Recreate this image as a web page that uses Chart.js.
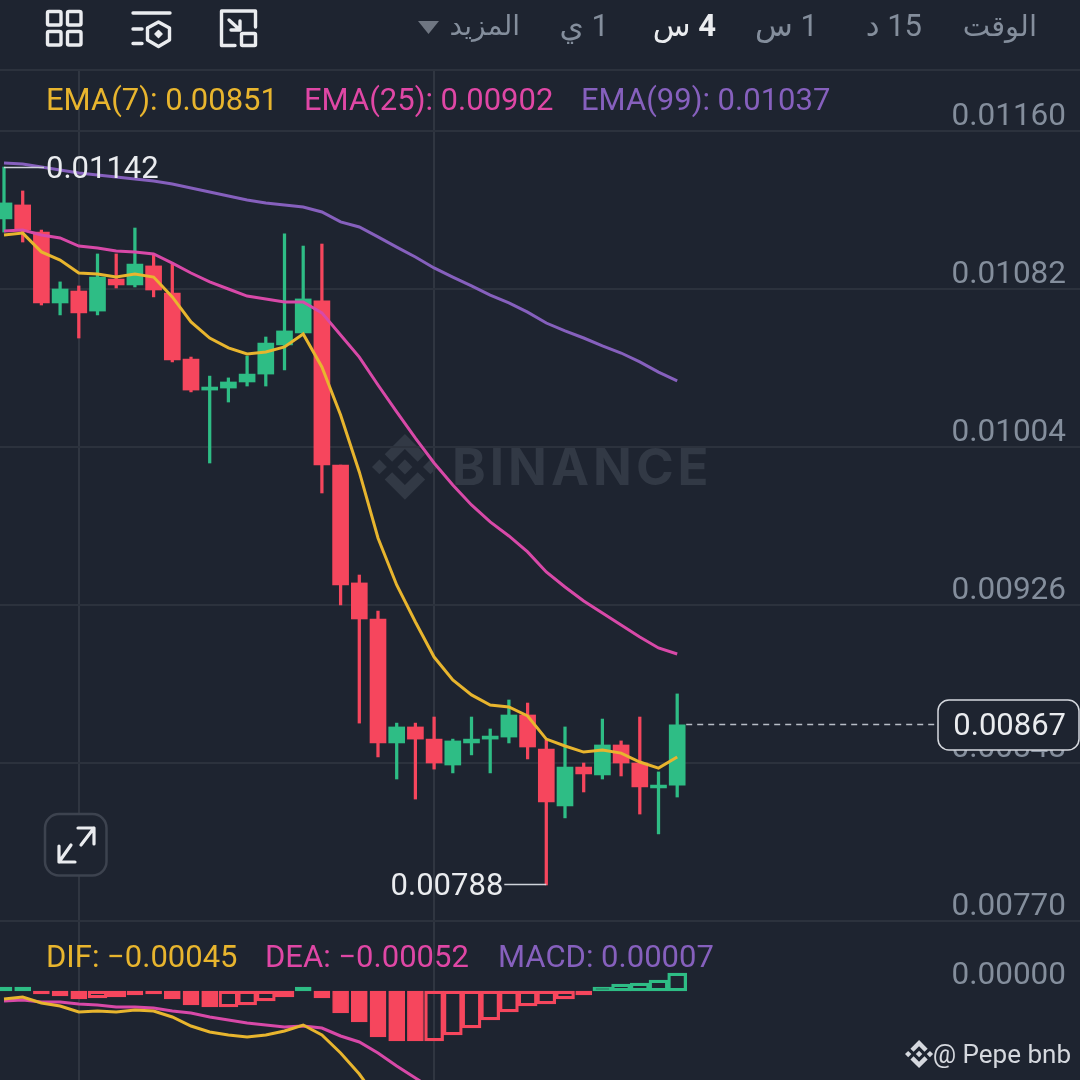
<!DOCTYPE html>
<html lang="ar">
<head>
<meta charset="utf-8">
<title>Binance chart</title>
<script src="https://cdn.jsdelivr.net/npm/chart.js@4"></script>
<style>
html,body{margin:0;padding:0;background:#1e2430;width:1080px;height:1080px;overflow:hidden;font-family:Roboto,"DejaVu Sans",sans-serif}
#wrap{position:relative;width:1080px;height:1080px;background:#1e2430;overflow:hidden}
#chart{position:absolute;left:0;top:70px;display:block}
.t{position:absolute;white-space:nowrap;line-height:1}
.tab{top:9px;font-size:31px;color:#848e9c;direction:rtl;font-family:Roboto,"DejaVu Sans",sans-serif;line-height:34px}
.lg{font-size:31px;font-family:Roboto,sans-serif;line-height:31px}
svg.o{position:absolute;left:0;top:0}
</style>
</head>
<body>
<div id="wrap">
<svg class="o" width="1080" height="1080" id="bg">
  <g transform="translate(372,434) scale(0.52)" fill="#323945">
    <polygon points="38.73,53.2 63.3,28.63 87.89,53.22 102.19,38.92 63.3,0 24.43,38.87"/>
    <polygon points="0,63.3 14.3,49 28.6,63.3 14.3,77.6"/>
    <polygon points="38.73,73.41 63.3,97.98 87.89,73.39 102.2,87.69 63.3,126.61 24.42,87.71"/>
    <polygon points="98.01,63.31 112.31,49.01 126.61,63.31 112.31,77.61"/>
    <polygon points="77.83,63.3 63.3,48.76 48.76,63.29 63.3,77.84"/>
  </g>
</svg>
<div class="t" style="left:452px;top:441px;font:700 51px/52px Inter,sans-serif;color:#323945;letter-spacing:4px">BINANCE</div>
<canvas id="chart" width="1080" height="1010"></canvas>

<svg class="o" width="1080" height="71"><line x1="0" x2="1080" y1="70" y2="70" stroke="#2c323d" stroke-width="2"/></svg>
<svg class="o" width="1080" height="70" fill="none" stroke="#eaecef" stroke-width="3.4" stroke-linecap="round" stroke-linejoin="round">
  <rect x="47.500" y="11.500" width="13.500" height="13.500" rx="1.500"/><rect x="67.500" y="11.500" width="13.500" height="13.500" rx="1.500"/>
  <rect x="47.500" y="31.500" width="13.500" height="13.500" rx="1.500"/><rect x="67.500" y="31.500" width="13.500" height="13.500" rx="1.500"/>
  <path d="M133 13H170M133 29H142M133 43.500H142"/>
  <path d="M158.500 22L169.500 28V40L158.500 46.500L147.500 40V28Z"/>
  <path d="M158.500 30.500L162 34L158.500 37.500L155 34Z" fill="#eaecef" stroke-width="1.500"/>
  <path d="M235 45.500H221.500V11H255.500V27"/>
  <rect x="241.500" y="33.500" width="14" height="12" rx="1"/>
  <path d="M229 20L240 30M240 21V30H231"/>
</svg>
<div class="t tab" style="right:43px;font-size:29px">الوقت</div>
<div class="t tab" style="right:158px">15 د</div>
<div class="t tab" style="right:262px">1 س</div>
<div class="t tab" style="right:364px;color:#eaecef"><b>4</b> س</div>
<div class="t tab" style="right:471px">1 ي</div>
<div class="t tab" style="right:560px;font-size:28px">المزيد</div>
<svg class="o" width="1080" height="70"><polygon points="418,21 439,21 428.500,34" fill="#6f7682"/></svg>

<div class="t lg" style="left:46px;top:84px;color:#e8b52e">EMA(7): 0.00851</div>
<div class="t lg" style="left:304px;top:84px;color:#df47a5">EMA(25): 0.00902</div>
<div class="t lg" style="left:581px;top:84px;color:#8660bd">EMA(99): 0.01037</div>
<div class="t lg" style="left:46px;top:941px;color:#e8b52e">DIF: −0.00045</div>
<div class="t lg" style="left:265px;top:941px;color:#df47a5">DEA: −0.00052</div>
<div class="t lg" style="left:498px;top:941px;color:#8660bd">MACD: 0.00007</div>

<svg class="o" width="1080" height="1080" style="pointer-events:none">
  <rect x="45" y="814" width="61.500" height="61.500" rx="14" fill="#1e2430" stroke="#3d434f" stroke-width="2.5"/>
  <path d="M81 845L94 828M78 828H94V844M71 845L59 862M59 846V862H75" fill="none" stroke="#eaecef" stroke-width="3.200" stroke-linecap="round" stroke-linejoin="round"/>
  <g transform="translate(905,1040) scale(0.222)" fill="#d5d8de">
    <polygon points="38.73,53.2 63.3,28.63 87.89,53.22 102.19,38.92 63.3,0 24.43,38.87"/>
    <polygon points="0,63.3 14.3,49 28.6,63.3 14.3,77.6"/>
    <polygon points="38.73,73.41 63.3,97.98 87.89,73.39 102.2,87.69 63.3,126.61 24.42,87.71"/>
    <polygon points="98.01,63.31 112.31,49.01 126.61,63.31 112.31,77.61"/>
    <polygon points="77.83,63.3 63.3,48.76 48.76,63.29 63.3,77.84"/>
  </g>
</svg>
<div class="t" style="right:9px;top:1041px;font:400 26px/26px Roboto,sans-serif;color:#d5d8de">@ Pepe bnb</div>
</div>

<script>
const opens  = [0.011166,0.011235,0.011101,0.010751,0.010810,0.010711,0.010869,0.010840,0.010934,0.010800,0.010474,0.010321,0.010331,0.010361,0.010400,0.010544,0.010603,0.010761,0.009951,0.009369,0.009191,0.008579,0.008658,0.008598,0.008470,0.008579,0.008598,0.008608,0.008717,0.008549,0.008268,0.008460,0.008421,0.008569,0.008480,0.008357,0.008371];
const highs  = [0.011422,0.011304,0.011111,0.010855,0.010835,0.010993,0.010993,0.011121,0.010993,0.010948,0.010484,0.010390,0.010381,0.010489,0.010583,0.011092,0.011032,0.011042,0.009951,0.009408,0.009230,0.008677,0.008677,0.008707,0.008598,0.008707,0.008648,0.008791,0.008776,0.008594,0.008658,0.008480,0.008697,0.008589,0.008707,0.008436,0.008821];
const lows   = [0.011101,0.011052,0.010741,0.010692,0.010578,0.010692,0.010825,0.010830,0.010781,0.010460,0.010312,0.009961,0.010262,0.010341,0.010341,0.010420,0.010603,0.009813,0.009260,0.008677,0.008510,0.008401,0.008302,0.008450,0.008431,0.008520,0.008431,0.008579,0.008500,0.007878,0.008209,0.008337,0.008401,0.008416,0.008228,0.008130,0.008312];
const closes = [0.011245,0.011111,0.010751,0.010820,0.010702,0.010879,0.010840,0.010943,0.010815,0.010470,0.010321,0.010336,0.010361,0.010400,0.010553,0.010613,0.010771,0.009951,0.009359,0.009191,0.008579,0.008658,0.008598,0.008480,0.008589,0.008598,0.008613,0.008717,0.008559,0.008288,0.008460,0.008426,0.008569,0.008480,0.008362,0.008371,0.008668];
const ema7   = [0.011087,0.011096,0.011003,0.010963,0.010899,0.010894,0.010879,0.010894,0.010879,0.010781,0.010657,0.010578,0.010529,0.010499,0.010509,0.010534,0.010598,0.010435,0.010198,0.009917,0.009591,0.009359,0.009176,0.009003,0.008890,0.008816,0.008766,0.008757,0.008712,0.008598,0.008564,0.008534,0.008544,0.008529,0.008485,0.008455,0.008510];
const ema25  = [0.011106,0.011111,0.011087,0.011072,0.011032,0.011022,0.011008,0.011003,0.010993,0.010948,0.010899,0.010855,0.010820,0.010785,0.010771,0.010756,0.010756,0.010702,0.010593,0.010484,0.010346,0.010213,0.010084,0.009961,0.009852,0.009754,0.009670,0.009601,0.009522,0.009423,0.009349,0.009280,0.009220,0.009161,0.009102,0.009048,0.009018];
const ema99  = [0.011442,0.011437,0.011422,0.011407,0.011393,0.011383,0.011373,0.011363,0.011353,0.011338,0.011319,0.011299,0.011279,0.011259,0.011245,0.011235,0.011225,0.011200,0.011151,0.011126,0.011077,0.011027,0.010978,0.010924,0.010879,0.010835,0.010790,0.010751,0.010706,0.010652,0.010613,0.010578,0.010539,0.010504,0.010460,0.010410,0.010366];
const macdHist = [0.000016,0.000016,-0.000012,-0.00002,-0.000032,-0.000028,-0.000024,-0.000016,-0.000012,-0.000032,-0.000056,-0.000064,-0.000064,-0.000056,-0.00004,-0.000024,0.000016,-0.000028,-0.000088,-0.000124,-0.000184,-0.0002,-0.0002,-0.0002,-0.000176,-0.000148,-0.000116,-0.000084,-0.00006,-0.000052,-0.000032,-0.000016,0.000016,0.000028,0.000032,0.000044,0.000072];
const macdHollow = [0,0,0,0,0,1,1,0,0,0,0,0,1,1,1,1,0,0,0,0,0,0,0,1,1,1,1,1,1,1,1,0,1,1,1,1,1];
const dif = [-0.000032,-0.000024,-0.000048,-0.00006,-0.000084,-0.00008,-0.000084,-0.000076,-0.00008,-0.000104,-0.00014,-0.000164,-0.000176,-0.000184,-0.000176,-0.00016,-0.000136,-0.000176,-0.000248,-0.000332,-0.000436];
const dea = [-0.00004,-0.000036,-0.000044,-0.000044,-0.000052,-0.000056,-0.000064,-0.000064,-0.000068,-0.00008,-0.000088,-0.000104,-0.000116,-0.000128,-0.000136,-0.000144,-0.00014,-0.000148,-0.00018,-0.000204,-0.000248,-0.0003,-0.000348,-0.000396];
const priceTicks = [0.0116,0.01082,0.01004,0.00926,0.00848,0.0077];
const macdTicks = [0];
const timeGrid = [4,23];
const lastPrice = 0.00867, highPrice = 0.01142, lowPrice = 0.00788;
const highIndex = 0, lowIndex = 29, lastIndex = 36;

const RED='#f6465d', GREEN='#2ebd85', GRID='#2c323d', TICK='#848e9c', BG='#1e2430';
const up = i => closes[i] >= opens[i];
const idx = opens.map((_, i) => i);
const pair = (a) => a.map((v, i) => ({x:i, y:v}));
const cols = idx.map(i => up(i) ? GREEN : RED);
const fixed = d => v => v.toFixed(d);
const flat = s => { if (s.isHorizontal()) s.height = 0; else s.width = 0; s.paddingTop = s.paddingBottom = s.paddingLeft = s.paddingRight = 0; };
const histColor = i => macdHist[i] >= 0 ? GREEN : RED;
const solidBars = idx.filter(i => !macdHollow[i]);
const hollowBars = idx.filter(i => macdHollow[i]);

const annotate = {
  id:'annotate',
  afterDatasetsDraw(c){
    const {ctx, scales:{x, y}} = c;
    ctx.save();
    ctx.font = '400 31px Roboto, sans-serif';
    ctx.textBaseline = 'middle';
    // high and low markers
    const yh = y.getPixelForValue(highPrice), yl = y.getPixelForValue(lowPrice);
    ctx.strokeStyle = '#cfd3da'; ctx.lineWidth = 1.5;
    ctx.beginPath();
    ctx.moveTo(x.getPixelForValue(highIndex), yh); ctx.lineTo(x.getPixelForValue(highIndex)+40, yh);
    ctx.moveTo(x.getPixelForValue(lowIndex), yl); ctx.lineTo(x.getPixelForValue(lowIndex)-42, yl);
    ctx.stroke();
    ctx.fillStyle = '#eaecef';
    ctx.textAlign = 'left';
    ctx.fillText(highPrice.toFixed(5), x.getPixelForValue(highIndex)+42, yh+3);
    ctx.textAlign = 'right';
    ctx.fillText(lowPrice.toFixed(5), x.getPixelForValue(lowIndex)-43, yl+3);
    // last price line and box
    const yp = y.getPixelForValue(lastPrice);
    ctx.strokeStyle = '#b7bdc6'; ctx.setLineDash([6,5]);
    ctx.beginPath(); ctx.moveTo(x.getPixelForValue(lastIndex)+9, yp); ctx.lineTo(938, yp); ctx.stroke();
    ctx.setLineDash([]);
    ctx.beginPath(); ctx.roundRect(938, yp-24.5, 141, 50, 11);
    ctx.fillStyle = BG; ctx.fill();
    ctx.strokeStyle = '#d5d8de'; ctx.lineWidth = 1.5; ctx.stroke();
    ctx.fillStyle = '#eaecef'; ctx.textAlign = 'right';
    ctx.fillText(lastPrice.toFixed(5), 1066, yp+3);
    ctx.restore();
  }
};

new Chart(document.getElementById('chart'), {
  data: { datasets: [
    {type:'bar', label:'MACD solid', yAxisID:'y2', grouped:false, barThickness:16, order:7,
      data: solidBars.map(i => ({x:i, y:[0, macdHist[i]]})),
      backgroundColor: solidBars.map(histColor), borderColor: solidBars.map(histColor),
      borderWidth: 1, borderSkipped:false},
    {type:'bar', label:'MACD hollow', yAxisID:'y2', grouped:false, barThickness:19, order:6,
      data: hollowBars.map(i => ({x:i, y:[0, macdHist[i]]})),
      backgroundColor: 'rgba(0,0,0,0)', borderColor: hollowBars.map(histColor),
      borderWidth: 2.6, borderSkipped:false},
    {type:'bar', label:'Wick', yAxisID:'y', grouped:false, barThickness:2.6, order:5,
      data: idx.map(i => ({x:i, y:[lows[i], highs[i]]})), backgroundColor: cols, borderWidth:0},
    {type:'bar', label:'Body', yAxisID:'y', grouped:false, barThickness:16, order:4,
      data: idx.map(i => ({x:i, y:[opens[i], closes[i]]})), backgroundColor: cols, borderWidth:0},
    {type:'line', label:'DEA', yAxisID:'y2', data:pair(dea), borderColor:'#d849a8', borderWidth:3, pointRadius:0, tension:0, order:3},
    {type:'line', label:'DIF', yAxisID:'y2', data:pair(dif), borderColor:'#e8b52e', borderWidth:3, pointRadius:0, tension:0, order:2},
    {type:'line', label:'EMA(99)', yAxisID:'y', data:pair(ema99), borderColor:'#8660bd', borderWidth:3, pointRadius:0, tension:0, order:3},
    {type:'line', label:'EMA(25)', yAxisID:'y', data:pair(ema25), borderColor:'#d849a8', borderWidth:3, pointRadius:0, tension:0, order:2},
    {type:'line', label:'EMA(7)', yAxisID:'y', data:pair(ema7), borderColor:'#e8b52e', borderWidth:3, pointRadius:0, tension:0, order:1}
  ]},
  options: {
    responsive:false, animation:false, devicePixelRatio:1,
    layout:{padding:0},
    plugins:{legend:{display:false}, tooltip:{enabled:false}},
    scales:{
      x:{type:'linear', min:-4/18.7, max:1076/18.7, offset:false, afterFit:flat,
        afterBuildTicks:s=>{s.ticks=timeGrid.map(v=>({value:v}));},
        ticks:{display:false}, border:{display:false},
        grid:{color:'#303641', lineWidth:2, drawTicks:false, offset:false}},
      y:{type:'linear', position:'right', min:0.0069151, max:0.0119011, afterFit:flat,
        afterBuildTicks:s=>{s.ticks=priceTicks.map(v=>({value:v}));},
        ticks:{mirror:true, padding:-14, labelOffset:-14, color:TICK, font:{family:'Roboto',size:31.5}, callback:fixed(5), autoSkip:false},
        border:{display:false},
        grid:{color:GRID, lineWidth:2, drawTicks:false}},
      y2:{type:'linear', position:'right', min:-0.000356, max:0.003684, afterFit:flat,
        afterBuildTicks:s=>{s.ticks=macdTicks.map(v=>({value:v}));},
        ticks:{mirror:true, padding:-14, labelOffset:-15, color:TICK, font:{family:'Roboto',size:31.5}, callback:fixed(5), autoSkip:false},
        border:{display:false},
        grid:{display:false, drawTicks:false}}
    }
  },
  plugins:[annotate]
});
</script>
</body>
</html>
